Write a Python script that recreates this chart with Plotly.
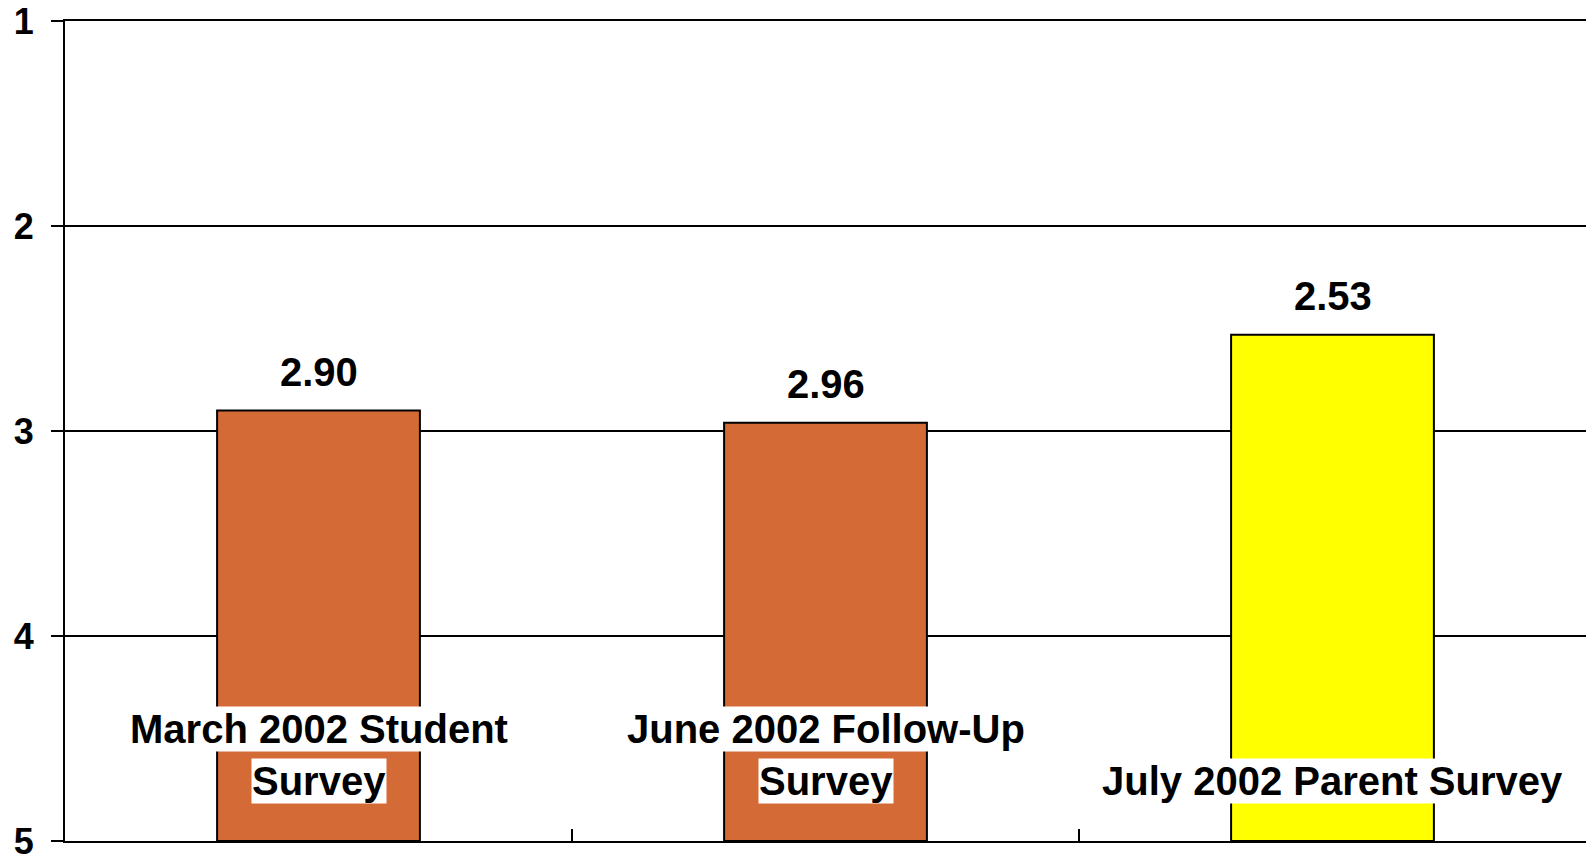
import plotly.graph_objects as go

categories = ["March 2002 Student Survey", "June 2002 Follow-Up Survey", "July 2002 Parent Survey"]
label_lines = [["March 2002 Student", "Survey"], ["June 2002 Follow-Up", "Survey"], ["July 2002 Parent Survey"]]
values = [2.90, 2.96, 2.53]
value_text = ["2.90", "2.96", "2.53"]
bar_colors = ["#D46A36", "#D46A36", "#FFFF00"]
y_ticks = [1, 2, 3, 4, 5]
baseline = 5

fig = go.Figure()
fig.add_trace(go.Bar(
    x=categories,
    y=[v - baseline for v in values],
    base=baseline,
    width=0.4,
    marker=dict(color=bar_colors, line=dict(color="black", width=2)),
    showlegend=False,
    hoverinfo="skip",
))

label_font = dict(family="Liberation Sans, Arial, sans-serif", size=40, color="black", weight="bold")

for cat, v, t in zip(categories, values, value_text):
    fig.add_annotation(x=cat, y=v, xref="x", yref="y", text=t, showarrow=False,
                       yanchor="middle", yshift=39, font=label_font)

row_shift = [60, 112]  # bottom row, row above
for cat, lines in zip(categories, label_lines):
    n = len(lines)
    for i, line in enumerate(lines):
        row = n - 1 - i
        fig.add_annotation(x=cat, y=0, xref="x", yref="paper", text=line, showarrow=False,
                           yanchor="middle", yshift=row_shift[row], font=label_font,
                           bgcolor="white", borderpad=0)

fig.update_layout(
    width=1586, height=857,
    margin=dict(l=65, r=0, t=21, b=16, autoexpand=False),
    paper_bgcolor="white", plot_bgcolor="white",
)
fig.update_xaxes(
    showticklabels=False, tickson="boundaries", ticks="inside", ticklen=12,
    tickcolor="black", tickwidth=2, showline=True, linecolor="black", linewidth=2,
    mirror=True,
    showgrid=False, zeroline=False, range=[-0.5, 2.5], automargin=False,
)
fig.update_yaxes(
    range=[5, 1], tickvals=y_ticks, ticktext=[str(v) for v in y_ticks],
    ticks="outside", ticklen=12, tickcolor="black", tickwidth=1.5,
    showline=True, linecolor="black", linewidth=2,
    showgrid=True, gridcolor="black", gridwidth=1.5, zeroline=False,
    tickfont=dict(family="Liberation Sans, Arial, sans-serif", size=36, color="black", weight="bold"),
    ticklabelstandoff=10, ticklabeloverflow="allow", automargin=False,
)

fig.write_html(
    "out.html",
    config={"displayModeBar": False},
    post_script="document.body.style.margin='0';document.body.style.overflow='hidden';",
)
